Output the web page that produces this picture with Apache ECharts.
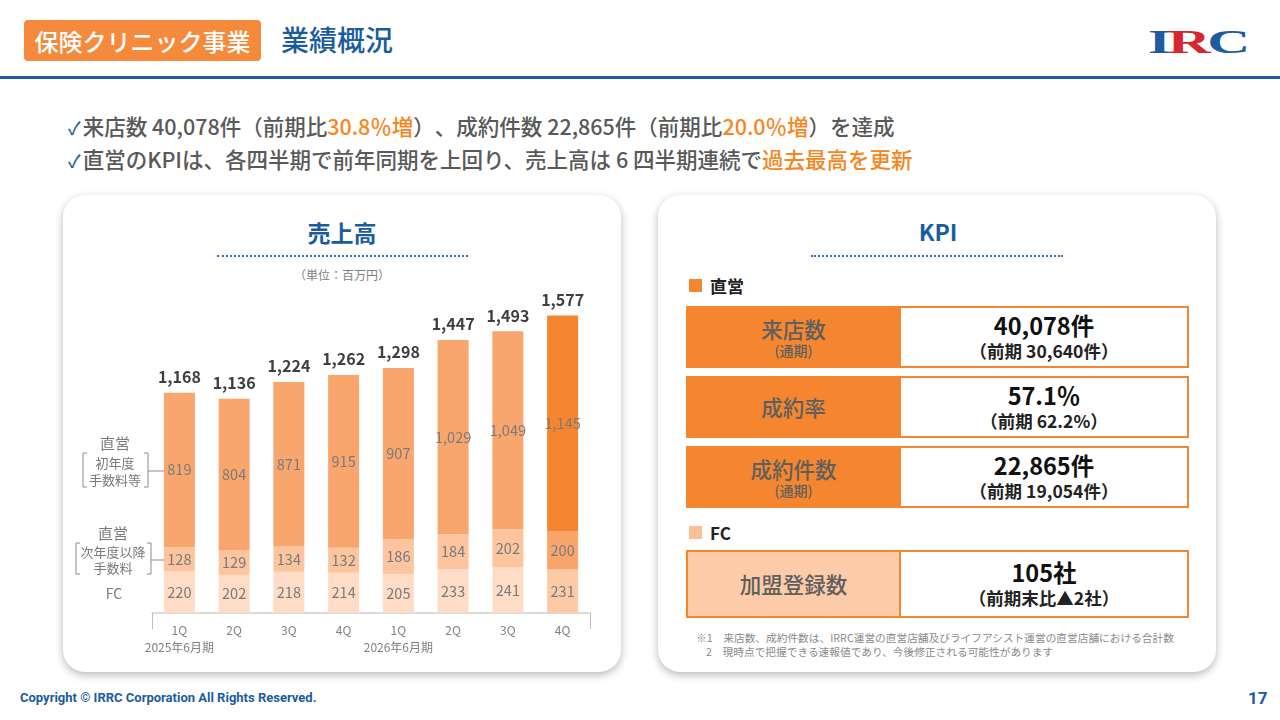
<!DOCTYPE html>
<html lang="ja">
<head>
<meta charset="UTF-8">
<title>業績概況</title>
<script src="https://cdn.jsdelivr.net/npm/echarts@6/dist/echarts.min.js"></script>
<style>
  html, body { margin: 0; padding: 0; width: 1280px; height: 720px; background: #fff; overflow: hidden; }
  body { position: relative; font-family: "Noto Sans CJK JP", "Noto Sans", sans-serif; color: #595959; text-spacing-trim: space-all; }
  .abs { position: absolute; }
  .tag { left: 24px; top: 20px; width: 237px; height: 41px; background: #F68A3C; border-radius: 4px;
         color: #fff; font-size: 24px; line-height: 41px; text-align: center; font-weight: 500; }
  .title { left: 281px; top: 19px; line-height: 41px; font-size: 28px; color: #1B5C9E; font-weight: 500; }
  .rule { left: 0; top: 76px; width: 1280px; height: 3px; background: #1F5C9E; }
  .logo { left: 1148px; top: 24px; font-family: "Liberation Serif", serif; font-weight: bold; font-size: 34px;
          color: #1F5C9E; transform: scaleX(1.75); transform-origin: left top; letter-spacing: -2px; line-height: 36px; }
  .logo b { color: #D7262E; }
  .bullet { left: 68px; font-size: 21.5px; line-height: 28px; color: #595959; font-weight: 500; white-space: nowrap; }
  .bullet .ck { color: #1F5C9E; font-size: 18px; margin-right: 2px; }
  .bullet .hl { color: #F7861E; }
  .panel { top: 195px; width: 558px; height: 477px; border-radius: 22px; background: #fff;
           box-shadow: 0 3px 8px rgba(0,0,0,0.28); }
  .ptitle { font-size: 23px; font-weight: bold; color: #1B5C9E; text-align: center; width: 300px; line-height: 30px; }
  .dots { height: 0; border-top: 2px dotted #2F6DB5; }
  .sq { width: 13px; height: 13px; }
  .sect { font-size: 17px; font-weight: bold; color: #222; line-height: 20px; }
  .cellL { left: 686px; width: 215px; border: 2px solid #F5862F; box-sizing: border-box; color: #5f5f5f;
           display: flex; flex-direction: column; justify-content: center; align-items: center; }
  .cellR { left: 899px; width: 290px; border: 2px solid #F5862F; box-sizing: border-box; background: #fff;
           display: flex; flex-direction: column; justify-content: center; align-items: center; color: #111; }
  .lbl { font-size: 21.5px; font-weight: 500; line-height: 26px; }
  .sub { font-size: 14px; line-height: 17px; font-weight: 500; }
  .big { font-size: 23.5px; font-weight: bold; line-height: 27px; }
  .prev { font-size: 17.5px; font-weight: bold; line-height: 23px; color: #222; }
  .note { font-size: 10.7px; color: #8a8a8a; line-height: 14px; white-space: nowrap; }
  .foot { left: 20px; top: 690px; font-family: "Liberation Sans Narrow", "Roboto", sans-serif; font-weight: bold;
          font-size: 13px; color: #1B5C9E; }
  .page { left: 1248px; top: 688px; font-family: "Liberation Sans Narrow", "Roboto", sans-serif; font-weight: bold;
          font-size: 17px; color: #1B5C9E; }
  #chart { position: absolute; left: 63px; top: 195px; width: 558px; height: 477px; }
</style>
</head>
<body>
  <div class="abs tag">保険クリニック事業</div>
  <div class="abs title">業績概況</div>
  <div class="abs logo">I<b>R</b>C</div>
  <div class="abs rule"></div>

  <div class="abs bullet" style="top:112px"><span class="ck">✓</span>来店数 40,078件（前期比<span class="hl">30.8％増</span>）、成約件数 22,865件（前期比<span class="hl">20.0％増</span>）を達成</div>
  <div class="abs bullet" style="top:145px"><span class="ck">✓</span>直営のKPIは、各四半期で前年同期を上回り、売上高は 6 四半期連続で<span class="hl">過去最高を更新</span></div>

  <div class="abs panel" style="left:63px"></div>
  <div class="abs panel" style="left:658px"></div>

  <div class="abs ptitle" style="left:192px; top:217px">売上高</div>
  <div class="abs dots" style="left:217px; top:255px; width:251px"></div>
  <div class="abs" style="left:242px; top:266px; width:200px; text-align:center; font-size:12px; color:#7f7f7f">（単位：百万円）</div>

  <div class="abs ptitle" style="left:788px; top:216px">KPI</div>
  <div class="abs dots" style="left:811px; top:255px; width:252px"></div>

  <div class="abs sq" style="left:689px; top:279px; background:#F5862F"></div>
  <div class="abs sect" style="left:710px; top:276px">直営</div>

  <div class="abs cellL" style="top:306px; height:62px; background:#F5862F">
    <div class="lbl">来店数</div><div class="sub">(通期)</div></div>
  <div class="abs cellR" style="top:306px; height:62px">
    <div class="big">40,078件</div><div class="prev">（前期 30,640件）</div></div>

  <div class="abs cellL" style="top:376px; height:62px; background:#F5862F">
    <div class="lbl">成約率</div></div>
  <div class="abs cellR" style="top:376px; height:62px">
    <div class="big">57.1％</div><div class="prev">（前期 62.2%）</div></div>

  <div class="abs cellL" style="top:446px; height:62px; background:#F5862F">
    <div class="lbl">成約件数</div><div class="sub">(通期)</div></div>
  <div class="abs cellR" style="top:446px; height:62px">
    <div class="big">22,865件</div><div class="prev">（前期 19,054件）</div></div>

  <div class="abs sq" style="left:689px; top:526px; background:#FDBF94"></div>
  <div class="abs sect" style="left:710px; top:523px">FC</div>

  <div class="abs cellL" style="top:550px; height:68px; background:#FDCBA7">
    <div class="lbl">加盟登録数</div></div>
  <div class="abs cellR" style="top:550px; height:68px">
    <div class="big">105社</div><div class="prev">（前期末比▲2社）</div></div>

  <div class="abs note" style="left:696px; top:631px">※1　来店数、成約件数は、IRRC運営の直営店舗及びライフアシスト運営の直営店舗における合計数</div>
  <div class="abs note" style="left:706px; top:645px">2　現時点で把握できる速報値であり、今後修正される可能性があります</div>

  <div class="abs foot">Copyright © IRRC Corporation All Rights Reserved.</div>
  <div class="abs page">17</div>

  <div id="chart"></div>

<script>
  // 売上高（百万円）
  const quarters = ['1Q', '2Q', '3Q', '4Q', '1Q', '2Q', '3Q', '4Q'];
  const periods = ['2025年6月期', '', '', '', '2026年6月期', '', '', ''];
  const fcSales = [220, 202, 218, 214, 205, 233, 241, 231];
  const directLaterSales = [128, 129, 134, 132, 186, 184, 202, 200];
  const directFirstSales = [819, 804, 871, 915, 907, 1029, 1049, 1145];
  const totalSales = [1168, 1136, 1224, 1262, 1298, 1447, 1493, 1577];

  const fcColors = ['#FEDCC5', '#FCCBA6'];
  const laterColors = ['#FCC59F', '#F9A56C'];
  const firstColors = ['#F9A66E', '#F6852F'];
  const lastIdx = quarters.length - 1;

  const chart = echarts.init(document.getElementById('chart'));

  const insideLabel = {
    show: true, position: 'inside', color: '#7a7a7a', fontSize: 14.5,
    fontFamily: 'Noto Sans CJK JP',
    formatter: p => p.value.toLocaleString('en-US')
  };

  function colored(arr, colors) {
    return arr.map((v, i) => ({ value: v, itemStyle: { color: i === lastIdx ? colors[1] : colors[0] } }));
  }

  // 左側の凡例注記
  const grey = '#8c8c8c';
  const txt = (x, y, s, size) => ({
    type: 'text', x: x, y: y,
    style: { text: s, fill: '#7a7a7a', fontSize: size, fontFamily: 'Noto Sans CJK JP', align: 'center', verticalAlign: 'middle' }
  });
  const seg = (x1, y1, x2, y2) => ({
    type: 'line', shape: { x1: x1, y1: y1, x2: x2, y2: y2 }, style: { stroke: grey, lineWidth: 1 }
  });
  const bracket = (l, r, t, b) => [
    seg(l, t, l, b), seg(l, t, l + 4, t), seg(l, b, l + 4, b),
    seg(r, t, r, b), seg(r - 4, t, r, t), seg(r - 4, b, r, b)
  ];

  const graphics = [
    txt(52, 248, '直営', 15),
    txt(52, 268, '初年度', 13),
    txt(52, 285, '手数料等', 13),
    ...bracket(20, 85, 258, 292),
    seg(85, 276, 101, 276),
    txt(50, 338, '直営', 15),
    txt(50, 357, '次年度以降', 13),
    txt(50, 373, '手数料', 13),
    ...bracket(13, 88, 348, 379),
    seg(88, 365, 101, 365),
    txt(51, 399, 'FC', 14)
  ];

  chart.setOption({
    animation: false,
    grid: { left: 89, width: 438, top: 97, bottom: 59 },
    xAxis: {
      type: 'category',
      data: quarters,
      axisLine: { lineStyle: { color: '#d0d0d0', width: 1.5 } },
      axisTick: { show: true, interval: i => i === 4, length: 16, lineStyle: { color: '#bfbfbf' } },
      axisLabel: {
        color: '#808080', fontSize: 12, margin: 9, lineHeight: 17,
        fontFamily: 'Noto Sans CJK JP', interval: 0,
        formatter: (v, i) => periods[i] ? v + '\n' + periods[i] : v
      }
    },
    yAxis: { type: 'value', min: 0, max: 1700, show: false, splitLine: { show: false } },
    series: [
      { name: 'FC', type: 'bar', stack: 's', barWidth: 31, data: colored(fcSales, fcColors), label: insideLabel },
      { name: '直営 次年度以降手数料', type: 'bar', stack: 's', data: colored(directLaterSales, laterColors), label: insideLabel },
      { name: '直営 初年度手数料等', type: 'bar', stack: 's', data: colored(directFirstSales, firstColors), label: insideLabel },
      {
        name: '合計', type: 'line', data: totalSales, symbol: 'circle', symbolSize: 1,
        itemStyle: { color: 'transparent' }, lineStyle: { width: 0, color: 'transparent' },
        label: {
          show: true, position: 'top', distance: 7, color: '#3f3f3f', fontSize: 16, fontWeight: 'bold',
          fontFamily: 'Noto Sans CJK JP', formatter: p => p.value.toLocaleString('en-US')
        }
      }
    ],
    graphic: graphics
  });
</script>
</body>
</html>
